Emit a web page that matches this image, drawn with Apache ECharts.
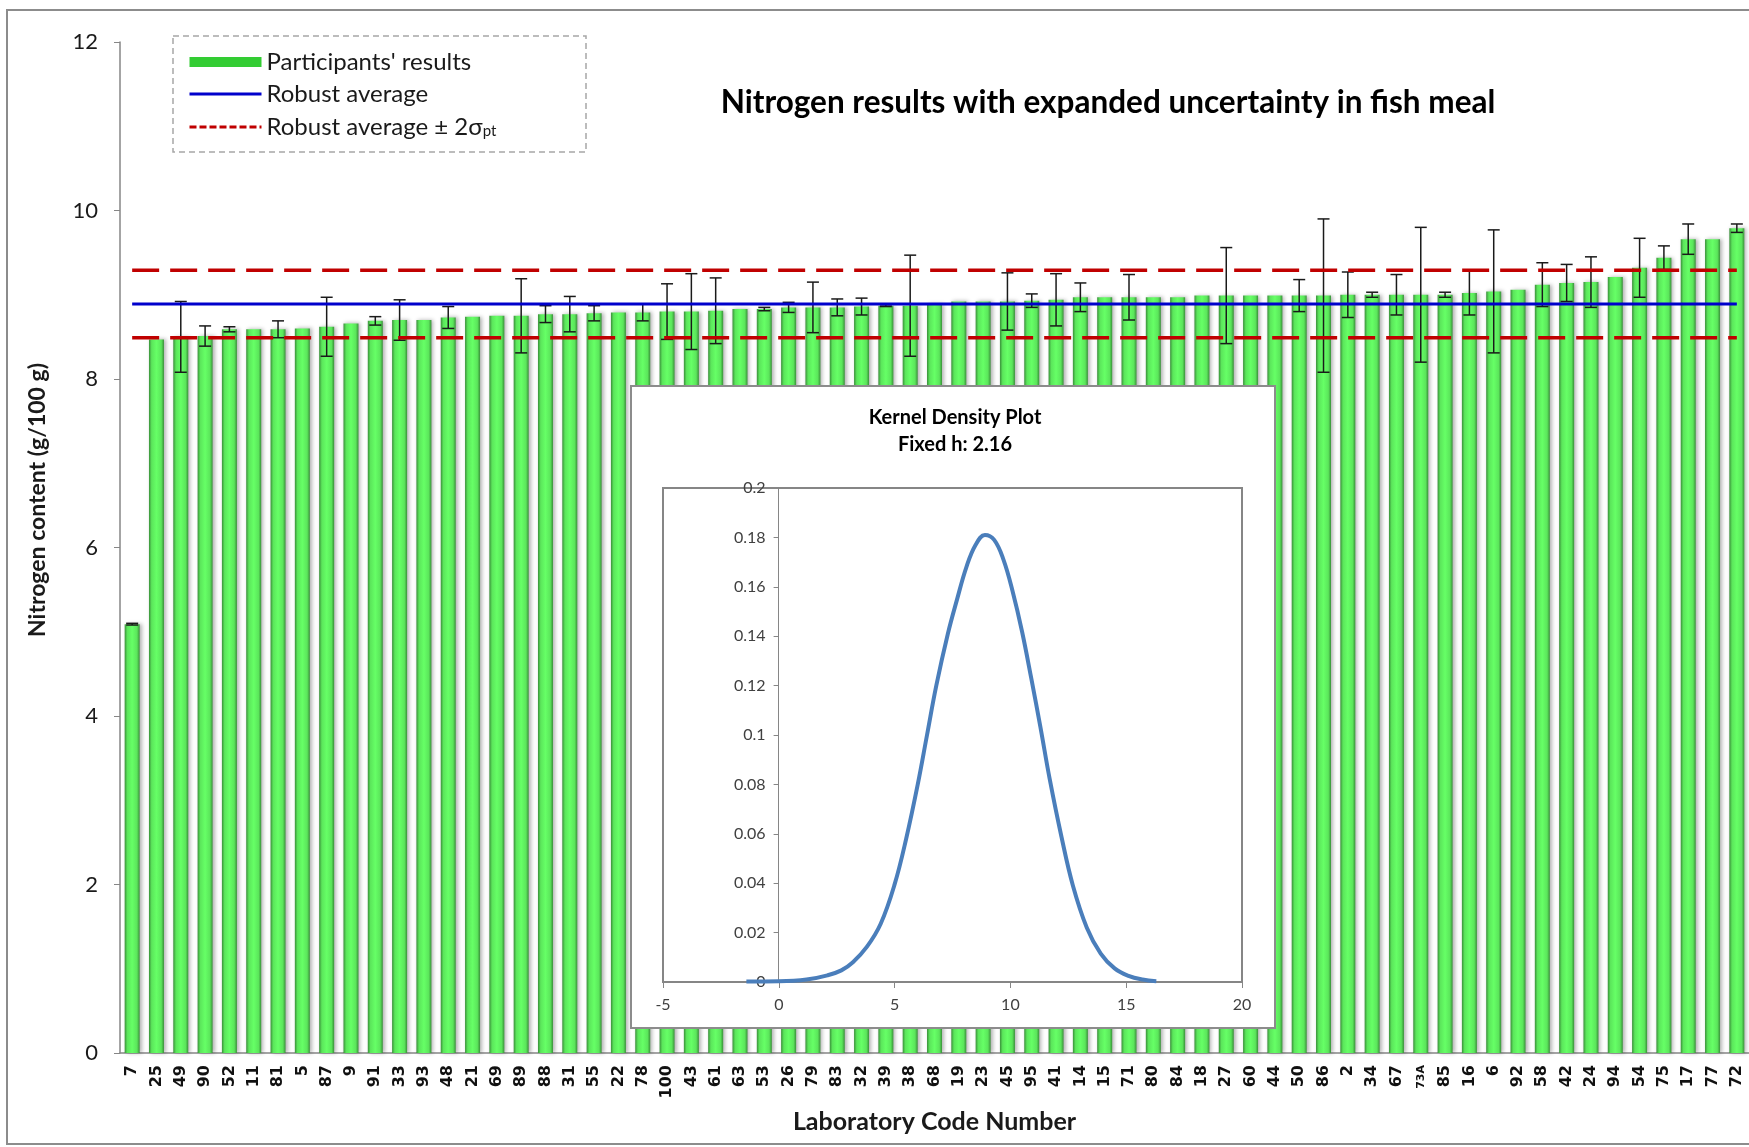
<!DOCTYPE html>
<html>
<head>
<meta charset="utf-8">
<title>Nitrogen results with expanded uncertainty in fish meal</title>
<script src="https://cdn.jsdelivr.net/npm/echarts@6/dist/echarts.min.js"></script>
<style>
html, body { margin: 0; padding: 0; background: #fff; }
#chart { width: 1749px; height: 1147px; }
</style>
</head>
<body>
<div id="chart"></div>
<script>
// laboratory codes, sorted by result
var labCodes = ['7','25','49','90','52','11','81','5','87','9','91','33','93','48','21','69','89','88','31','55',
	'22','78','100','43','61','63','53','26','79','83','32','39','38','68','19','23','45','95','41','14',
	'15','71','80','84','18','27','60','44','50','86','2','34','67','73A','85','16','6','92','58','42',
	'24','94','54','75','17','77','72']
// nitrogen content, g/100 g
var results = [5.09,8.47,8.50,8.51,8.59,8.59,8.59,8.60,8.62,8.66,8.69,8.70,8.70,8.73,8.74,8.75,8.75,8.77,8.77,8.78,
	8.79,8.79,8.80,8.80,8.81,8.83,8.83,8.85,8.85,8.85,8.86,8.87,8.87,8.89,8.92,8.92,8.92,8.93,8.94,8.97,
	8.97,8.97,8.97,8.97,8.99,8.99,8.99,8.99,8.99,8.99,9.00,9.00,9.00,9.00,9.00,9.02,9.04,9.06,9.12,9.14,
	9.15,9.21,9.32,9.44,9.66,9.66,9.79]
// expanded uncertainty (null = not reported)
var uncertainty = [0.01,null,0.42,0.12,0.03,null,0.10,null,0.35,null,0.05,0.24,null,0.13,null,null,0.44,0.10,0.21,0.09,
	null,0.10,0.33,0.45,0.39,null,0.02,0.06,0.30,0.10,0.10,0.01,0.60,null,null,null,0.34,0.08,0.31,0.17,
	null,0.27,null,null,null,0.57,null,null,0.19,0.91,0.27,0.03,0.24,0.80,0.03,0.26,0.73,null,0.26,0.22,
	0.30,null,0.35,0.14,0.18,null,0.05]
var robustAvg = 8.89
var twoSigmaPt = 0.40

// kernel density curve (inset)
var kdeX = [-1.4,0,1.2,2.1,2.7,3.2,3.8,4.4,5.0,5.5,6.0,6.4,6.8,7.3,7.7,8.1,8.5,8.9,9.3,9.7,10.1,10.5,10.9,11.3,11.7,12.2,12.7,13.3,13.9,14.5,15.1,15.7,16.3]
var kdeY = [0.0002,0.0003,0.001,0.0027,0.0047,0.008,0.0142,0.0236,0.0395,0.058,0.080,0.100,0.120,0.141,0.155,0.168,0.177,0.181,0.179,0.171,0.158,0.142,0.123,0.103,0.082,0.059,0.039,0.022,0.0115,0.0055,0.0025,0.001,0.0003]

var dashName = 'Robust average \u00b1 2\u03c3pt'

var errData = []
for (var i = 0; i < results.length; i++) {
	if (uncertainty[i] !== null)
		errData.push([i, results[i] - uncertainty[i], results[i] + uncertainty[i]])
}

var myChart = echarts.init(document.getElementById('chart'))

var barColor = new echarts.graphic.LinearGradient(0, 0, 1, 0, [
	{offset: 0, color: '#3a8f3a'},
	{offset: 0.18, color: '#5be65b'},
	{offset: 0.5, color: '#66ff66'},
	{offset: 0.82, color: '#5be65b'},
	{offset: 1, color: '#3a8f3a'}
])
var noSymbol = { color: 'rgba(0,0,0,0)', borderColor: 'rgba(0,0,0,0)', borderWidth: 0 }

var option = {
	animation: false,
	backgroundColor: '#fff',
	textStyle: { fontFamily: 'Lato' },
	legend: {
		orient: 'vertical',
		left: 183,
		top: 45,
		z: 10,
		itemWidth: 72,
		itemHeight: 10,
		itemGap: 8,
		selectedMode: false,
		textStyle: {
			fontSize: 24, color: '#1a1a1a', lineHeight: 24,
			rich: {
				n: { fontSize: 24, color: '#1a1a1a', lineHeight: 24 },
				s: { fontSize: 15, color: '#1a1a1a', lineHeight: 24, verticalAlign: 'bottom', padding: [10, 0, 0, 0] }
			}
		},
		formatter: function (name) {
			if (name === dashName) return '{n|Robust average \u00b1 2\u03c3}{s|pt}'
			return name
		},
		data: [
			{ name: "Participants' results", icon: 'rect', itemStyle: { color: '#33cc33', shadowBlur: 0, borderWidth: 0 } },
			{ name: 'Robust average', itemStyle: noSymbol, lineStyle: { width: 3, color: '#0000cc' } },
			{ name: dashName, itemStyle: noSymbol, lineStyle: { width: 3, color: '#c00000', type: [7, 3] } }
		]
	},
	grid: [
		{ left: 120, right: -4, top: 42, bottom: 94 },
		{ left: 663, top: 488, width: 579, height: 494, show: true, borderColor: '#868686', borderWidth: 2, backgroundColor: 'rgba(0,0,0,0)', z: 11 }
	],
	xAxis: [
		{
			type: 'category',
			data: labCodes,
			gridIndex: 0,
			name: 'Laboratory Code Number',
			nameLocation: 'middle',
			nameGap: 56,
			nameTextStyle: { fontSize: 25, fontWeight: 'bold', color: '#1a1a1a' },
			axisLine: { lineStyle: { color: '#868686', width: 1.5 } },
			axisTick: { length: 5, lineStyle: { color: '#868686' } },
			axisLabel: {
				rotate: 90,
				interval: 0,
				margin: 12,
				formatter: function (v) {
					return v === '73A' ? '{s|' + v + '}' : '{b|' + v + '}'
				},
				rich: {
					b: { fontFamily: 'DejaVu Sans', fontWeight: 'bold', fontSize: 16, color: '#111' },
					s: { fontFamily: 'DejaVu Sans', fontWeight: 'bold', fontSize: 11, color: '#111' }
				}
			}
		},
		{
			type: 'value',
			gridIndex: 1,
			min: -5, max: 20, interval: 5,
			z: 11,
			axisLine: { show: true, lineStyle: { color: '#868686', width: 1.5 } },
			axisTick: { show: true, length: 6, lineStyle: { color: '#868686' } },
			axisLabel: { fontSize: 16, color: '#404040', margin: 15 },
			splitLine: { show: false }
		}
	],
	yAxis: [
		{
			type: 'value',
			gridIndex: 0,
			min: 0, max: 12, interval: 2,
			axisLine: { show: true, lineStyle: { color: '#868686', width: 1.5 } },
			axisTick: { show: true, length: 6, lineStyle: { color: '#868686' } },
			axisLabel: { fontSize: 22, color: '#1a1a1a', margin: 22 },
			splitLine: { show: false }
		},
		{
			type: 'value',
			gridIndex: 1,
			min: 0, max: 0.2, interval: 0.02,
			z: 11,
			offset: -115.6, // axis sits at x = 0
			axisLine: { show: true, onZero: false, lineStyle: { color: '#868686', width: 1 } },
			axisTick: { show: true, length: 5, lineStyle: { color: '#868686' } },
			axisLabel: { fontSize: 16, color: '#404040', margin: 13 },
			splitLine: { show: false }
		}
	],
	series: [
		{
			name: "Participants' results",
			type: 'bar',
			data: results,
			barWidth: 15,
			itemStyle: {
				color: barColor,
				shadowBlur: 4,
				shadowColor: 'rgba(0,0,0,0.3)',
				shadowOffsetX: 2
			},
			z: 2
		},
		{
			name: 'uncertainty',
			type: 'custom',
			data: errData,
			z: 3,
			renderItem: function (params, api) {
				var x = api.coord([api.value(0), api.value(1)])[0]
				var lo = api.coord([api.value(0), api.value(1)])[1]
				var hi = api.coord([api.value(0), api.value(2)])[1]
				var half = 6
				var st = { stroke: '#1a1a1a', lineWidth: 1.5 }
				return {
					type: 'group',
					children: [
						{ type: 'line', shape: { x1: x, y1: hi, x2: x, y2: lo }, style: st },
						{ type: 'line', shape: { x1: x - half, y1: hi, x2: x + half, y2: hi }, style: st },
						{ type: 'line', shape: { x1: x - half, y1: lo, x2: x + half, y2: lo }, style: st }
					]
				}
			}
		},
		{
			name: 'Robust average',
			type: 'line',
			data: labCodes.map(function () { return robustAvg }),
			symbol: 'none',
			lineStyle: { color: '#0000cc', width: 3 },
			itemStyle: { color: '#0000cc' },
			z: 4
		},
		{
			name: dashName,
			type: 'line',
			data: labCodes.map(function () { return robustAvg + twoSigmaPt }),
			symbol: 'none',
			lineStyle: { color: '#c00000', width: 3.5, type: [27, 11] },
			itemStyle: { color: '#c00000' },
			z: 4
		},
		{
			name: dashName,
			type: 'line',
			data: labCodes.map(function () { return robustAvg - twoSigmaPt }),
			symbol: 'none',
			lineStyle: { color: '#c00000', width: 3.5, type: [27, 11] },
			itemStyle: { color: '#c00000' },
			z: 4
		},
		{
			name: 'Kernel density',
			type: 'line',
			xAxisIndex: 1,
			yAxisIndex: 1,
			data: kdeX.map(function (x, i) { return [x, kdeY[i]] }),
			smooth: 0.4,
			symbol: 'none',
			lineStyle: { color: '#4a7ebb', width: 4 },
			z: 12
		}
	],
	graphic: {
		elements: [
			{
				type: 'rect', z: 0, silent: true,
				shape: { x: 7, y: 10, width: 1800, height: 1134 },
				style: { fill: null, stroke: '#8c8c8c', lineWidth: 2 }
			},
			{
				type: 'rect', z: 1, silent: true,
				shape: { x: 173, y: 36, width: 413, height: 116 },
				style: { fill: null, stroke: '#a6a6a6', lineWidth: 1.5, lineDash: [6, 4] }
			},
			{
				type: 'text', z: 5, silent: true,
				x: 1108, y: 103,
				style: {
					text: 'Nitrogen results with expanded uncertainty in fish meal',
					font: 'bold 31.5px Lato', fill: '#000',
					align: 'center', verticalAlign: 'middle', textAlign: 'center', textVerticalAlign: 'middle'
				}
			},
			{
				type: 'text', z: 5, silent: true,
				x: 38, y: 500, rotation: Math.PI / 2,
				style: {
					text: 'Nitrogen content (g/100 g)',
					font: 'bold 23px Lato', fill: '#1a1a1a',
					align: 'center', verticalAlign: 'middle', textAlign: 'center', textVerticalAlign: 'middle'
				}
			},
			{
				type: 'rect', z: 10, silent: true,
				shape: { x: 631, y: 386, width: 644, height: 642 },
				style: { fill: '#fff', stroke: '#8c8c8c', lineWidth: 2 }
			},
			{
				type: 'text', z: 12, silent: true,
				x: 955, y: 418,
				style: {
					text: 'Kernel Density Plot',
					font: 'bold 20px Lato', fill: '#000',
					align: 'center', verticalAlign: 'middle', textAlign: 'center', textVerticalAlign: 'middle'
				}
			},
			{
				type: 'text', z: 12, silent: true,
				x: 955, y: 445,
				style: {
					text: 'Fixed h: 2.16',
					font: 'bold 20px Lato', fill: '#000',
					align: 'center', verticalAlign: 'middle', textAlign: 'center', textVerticalAlign: 'middle'
				}
			}
		]
	}
}

myChart.setOption(option)
</script>
</body>
</html>
